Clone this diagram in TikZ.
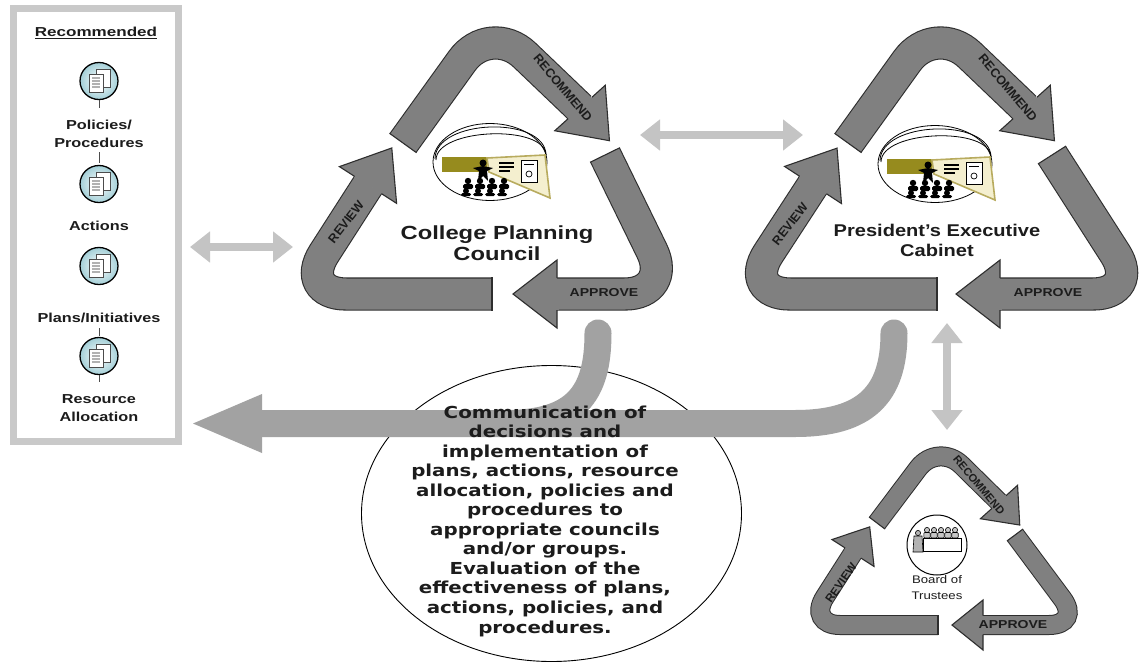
\documentclass[tikz,border=0pt]{standalone}
\usepackage{fontspec}
\setmainfont{Liberation Sans}
\newfontfamily\dvsans{DejaVu Sans}
\usetikzlibrary{arrows.meta}
\definecolor{arrowgray}{HTML}{808080}
\definecolor{outlinec}{HTML}{2E2E2E}
\definecolor{commgray}{HTML}{A2A2A2}
\definecolor{lightarrow}{HTML}{C4C4C4}
\definecolor{panelgray}{HTML}{C9C9C9}
\definecolor{iconteal}{HTML}{A3CFD7}
\definecolor{olivec}{HTML}{968B1E}
\definecolor{beamfill}{HTML}{F4EFCF}
\definecolor{beamline}{HTML}{B8AB5E}
\definecolor{txt}{HTML}{1C1C1C}
\tikzset{
 band/.style={draw=outlinec, line width=1.1pt, double=arrowgray, double distance=31pt, rounded corners=48pt},
 sband/.style={draw=outlinec, line width=1pt, double=arrowgray, double distance=18pt, rounded corners=33pt},
 outl/.style={draw=outlinec, line width=1.1pt, line join=miter},
 comm/.style={draw=commgray, line width=27pt, line cap=round},
 dblarrow/.style={draw=lightarrow, line width=8pt, {Triangle[length=20pt,width=30pt]}-{Triangle[length=20pt,width=30pt]}},
 hlbl/.style={font=\bfseries\fontsize{11.5}{12}\selectfont, text=txt, inner sep=0pt, xscale=1.22},
 rlbl/.style={font=\bfseries\fontsize{12.5}{13}\selectfont, text=txt, inner sep=0pt},
 ptext/.style={font=\bfseries\fontsize{13}{18}\selectfont, align=center, xscale=1.25, inner sep=0pt, text=txt},
 ctext/.style={font=\dvsans\bfseries\fontsize{16.5}{19.55}\selectfont, align=center, xscale=1.2, inner sep=0pt, text=txt},
 cpctext/.style={font=\bfseries\fontsize{19}{20.5}\selectfont, align=center, xscale=1.25, inner sep=0pt, text=txt},
 pectext/.style={font=\bfseries\fontsize{17}{20}\selectfont, align=center, xscale=1.18, inner sep=0pt, text=txt},
 bottext/.style={font=\fontsize{11}{16}\selectfont, align=center, xscale=1.2, inner sep=0pt, text=txt},
 tick/.style={draw=black!70, line width=1pt}
}
% head of a cycle arrow: x, y, angle, inner half band, half head, length
\newcommand\cyhead[6]{%
 \begin{scope}[shift={(#1,#2)}, rotate=#3]
  \fill[arrowgray] (-1.5,-#4) rectangle (0.5,#4);
  \fill[arrowgray] (0,#5) -- (#6,0) -- (0,-#5) -- cycle;
  \draw[outl] (0,#4+0.5) -- (0,#5) -- (#6,0) -- (0,-#5) -- (0,-#4-0.5);
 \end{scope}}
% tail edge: x, y, angle, half width
\newcommand\cytail[4]{%
 \begin{scope}[shift={(#1,#2)}, rotate=#3]
  \draw[outl] (0,-#4) -- (0,#4);
 \end{scope}}
\newcommand\docicon[2]{%
 \begin{scope}[shift={(#1,#2)}]
  \shade[inner color=white, outer color=iconteal] (0,0) ellipse (19 and 18.5);
  \draw[line width=1.3pt] (0,0) ellipse (19 and 18.5);
  \draw[fill=white, draw=black!70, line width=0.8pt] (-3,-12) rectangle (11,6);
  \draw[fill=white, draw=black!70, line width=0.8pt] (-10,-7) rectangle (4,11);
  \foreach \yy in {-3,0,3,6} \draw[gray!60, line width=1.4pt] (-7,\yy) -- (1,\yy);
 \end{scope}}
\newcommand\meeting[2]{%
 \begin{scope}[shift={(#1,#2)}]
  \draw[fill=white, line width=0.8pt] (0,0) ellipse (57 and 38.5);
  \draw[line width=0.8pt] (-55,-3) .. controls (-55,-43) and (55,-47) .. (56,-7);
  \draw[line width=0.8pt] (-54,-2) .. controls (-54,-34) and (55,-38) .. (56,-7);
  \fill[olivec] (-48,-5) rectangle (-3,10);
  \draw[fill=beamfill, draw=beamline, line width=1.6pt] (-3,-4) -- (55,-7) -- (60,36) -- (-1,10) -- cycle;
  \draw[fill=white, line width=0.8pt] (31,-2) rectangle (47,20);
  \draw[line width=0.6pt] (34,2) -- (44,2);
  \draw[line width=0.7pt] (39,12) circle (3);
  \draw[line width=1.2pt] (9,1) -- (24,1) (9,5) -- (24,5) (9,9) -- (20,9);
  \fill (-7,1) circle (3.5);
  \fill (-17,6) -- (-7,4) -- (3,6) -- (-3,9) -- (-2,19) -- (-7,14) -- (-12,19) -- (-11,9) -- cycle;
  \foreach \ax in {-22,-10,2,14} {\fill (\ax,19) circle (3.2); \fill[rounded corners=1.5pt] (\ax-5,22) rectangle (\ax+5,27);}
  \foreach \ax in {-24,-12,0,12} {\fill (\ax,29) circle (3); \fill[rounded corners=1.5pt] (\ax-5,31) rectangle (\ax+5,34);}
 \end{scope}}
\newcommand\boardicon[2]{%
 \begin{scope}[shift={(#1,#2)}]
  \draw[fill=white, line width=1pt] (0,0) circle (30);
  \foreach \hx in {-10,-3,4,11,18} {\draw[fill=gray!45, line width=0.6pt] (\hx,-15) circle (2.6); \draw[fill=gray!45, line width=0.6pt, rounded corners=1pt] (\hx-3.2,-12.5) rectangle (\hx+3.2,-7);}
  \draw[fill=white, line width=0.8pt] (-14,-7) rectangle (24,6);
  \draw[fill=gray!60, line width=0.6pt] (-19,-12) circle (2.6);
  \draw[fill=gray!60, line width=0.6pt] (-23,-9) -- (-15,-9) -- (-14,7) -- (-24,7) -- cycle;
 \end{scope}}
\begin{document}
\begin{tikzpicture}[x=1pt,y=-1pt]
\useasboundingbox (0,0) rectangle (1144,664);
\fill[white] (0,0) rectangle (1144,664);
% left panel
\draw[draw=panelgray, line width=7pt] (13.5,8.5) rectangle (178.5,441.5);
\node[ptext, xscale=1.05] (recTitle) at (96,33) {\underline{Recommended}};
\docicon{99}{81}
\docicon{99}{184}
\docicon{99}{266}
\docicon{99}{356}
\draw[tick] (99,100) -- (99,108);
\draw[tick] (99,152) -- (99,163);
\draw[tick] (99,328) -- (99,336);
\draw[tick] (99,375) -- (99,382);
\node[ptext] (lblPol) at (99,134) {Policies/\\Procedures};
\node[ptext] (lblAct) at (99,226) {Actions};
\node[ptext] (lblPlan) at (99,318) {Plans/Initiatives};
\node[ptext] (lblRes) at (99,408) {Resource\\Allocation};
% double arrows
\coordinate (dA1) at (190,247); \coordinate (dA2) at (293,247);
\coordinate (dB1) at (640,135); \coordinate (dB2) at (803,135);
\coordinate (dC1) at (947,323); \coordinate (dC2) at (947,430);
\draw[dblarrow] (dA1) -- (dA2);
\draw[dblarrow] (dB1) -- (dB2);
\draw[dblarrow] (dC1) -- (dC2);
% central ellipse and communication arrow
\draw[line width=0.9pt, fill=white] (551.5,513.5) ellipse (190 and 148);
\coordinate (cpcOut) at (598,333);
\coordinate (pecOut) at (894,333);
\coordinate (commTip) at (193,423.5);
\draw[comm] (cpcOut) .. controls (598,395) and (575,423.5) .. (505,423.5) -- (262,423.5);
\draw[comm] (pecOut) .. controls (894,395) and (865,423.5) .. (795,423.5) -- (505,423.5);
\fill[commgray] (262,394) -- (commTip) -- (262,453) -- cycle;
\node[ctext] (ctxt) at (545,521) {Communication of\\decisions and\\implementation of\\plans, actions, resource\\allocation, policies and\\procedures to\\appropriate councils\\and/or groups.\\Evaluation of the\\effectiveness of plans,\\actions, policies, and\\procedures.};
% College Planning Council cycle
\draw[band] (403,143) -- (490,22) -- (580,108);
\cyhead{580}{108}{-48}{15.5}{34}{44}
\cytail{403}{143}{54.3}{16.6}
\draw[band] (605,155) -- (673,294) -- (557,294);
\cyhead{557}{294}{180}{15.5}{34}{44}
\cytail{605}{155}{-63.9}{16.6}
\draw[band] (492,294) -- (298,294) -- (368,185);
\cyhead{368}{185}{57.3}{15.5}{34}{44}
\cytail{492}{294}{0}{16.6}
\node[rlbl, rotate=-50] (cpcRec) at (563,88) {RECOMMEND};
\node[hlbl] (cpcApp) at (604,293) {APPROVE};
\node[rlbl, rotate=52] (cpcRev) at (346,222) {REVIEW};
\meeting{490}{162}
\node[cpctext] (cpcName) at (497,243) {College Planning\\Council};
% President's Executive Cabinet cycle
\draw[band] (848,143) -- (935,22) -- (1025,108);
\cyhead{1025}{108}{-48}{15.5}{34}{44}
\cytail{848}{143}{54.3}{16.6}
\draw[band] (1052,155) -- (1141,294) -- (1000,294);
\cyhead{1000}{294}{180}{15.5}{34}{44}
\cytail{1052}{155}{-57.4}{16.6}
\draw[band] (937,294) -- (742,294) -- (813,185);
\cyhead{813}{185}{56.9}{15.5}{34}{44}
\cytail{937}{294}{0}{16.6}
\node[rlbl, rotate=-50] (pecRec) at (1008,88) {RECOMMEND};
\node[hlbl] (pecApp) at (1048,293) {APPROVE};
\node[rlbl, rotate=52] (pecRev) at (790,224) {REVIEW};
\meeting{935}{164}
\node[pectext] (pecName) at (937,240) {President's Executive\\Cabinet};
% Board of Trustees cycle
\draw[sband] (877,523) -- (938,442) -- (999,502);
\cyhead{999}{502}{-48}{9}{25}{31}
\cytail{877}{523}{53}{10}
\draw[sband] (1015,535) -- (1082,625) -- (983,625);
\cyhead{983}{625}{180}{9}{25}{31}
\cytail{1015}{535}{-53.3}{10}
\draw[sband] (938,625) -- (807,625) -- (853,553);
\cyhead{853}{553}{57.4}{9}{25}{31}
\cytail{938}{625}{0}{10}
\node[rlbl, rotate=-50, font=\bfseries\fontsize{11}{12}\selectfont] (botRec) at (979,485) {RECOMMEND};
\node[hlbl] (botApp) at (1013,625) {APPROVE};
\node[rlbl, rotate=55, font=\bfseries\fontsize{11.5}{12}\selectfont] (botRev) at (841,583) {REVIEW};
\boardicon{937}{545}
\node[bottext] (botName) at (937,588) {Board of\\Trustees};
\end{tikzpicture}
\end{document}
